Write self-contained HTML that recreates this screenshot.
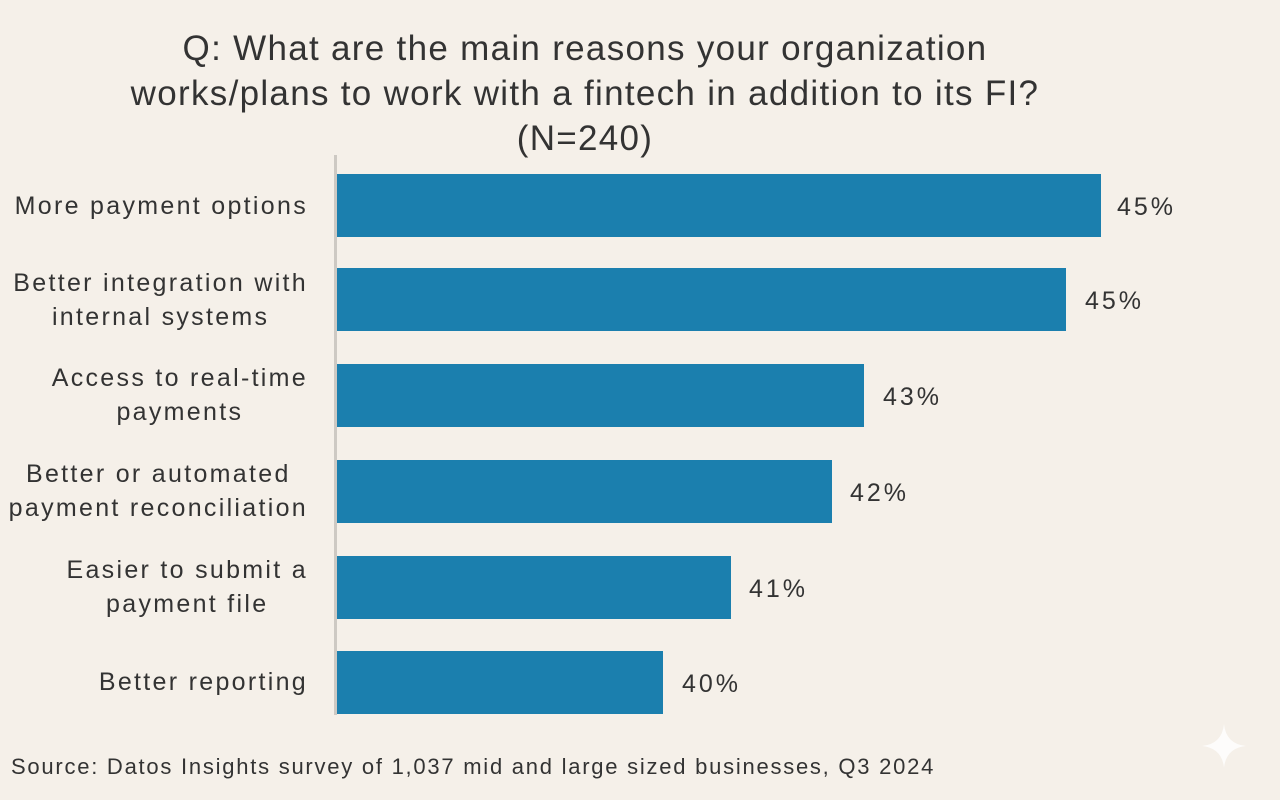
<!DOCTYPE html>
<html><head><style>
body{margin:0;width:1280px;height:800px;background:#f5f0e9;font-family:"Liberation Sans",sans-serif;color:#333;position:relative;overflow:hidden}
.t{position:absolute;left:0;width:1170px;text-align:center;font-size:35px;line-height:45px;top:26px;color:#333;letter-spacing:1.3px}
.ax{position:absolute;left:334px;top:155px;width:3px;height:560px;background:#cdc9c3}
.b{position:absolute;left:337px;height:63px;background:#1b7fae}
.v{position:absolute;font-size:25px;color:#333;letter-spacing:3px}
.l{position:absolute;right:972px;text-align:center;font-size:25px;line-height:34px;color:#333;white-space:nowrap;letter-spacing:2.3px}
.s{position:absolute;left:11px;top:754px;font-size:22px;color:#333;letter-spacing:1.75px}
</style></head><body>
<div class="t">Q: What are the main reasons your organization<br>works/plans to work with a fintech in addition to its FI?<br>(N=240)</div>
<div class="ax"></div>
<div class="b" style="top:174px;width:764px"></div><div class="v" style="left:1117px;top:193px">45%</div>
<div class="b" style="top:268px;width:729px"></div><div class="v" style="left:1085px;top:287px">45%</div>
<div class="b" style="top:364px;width:527px"></div><div class="v" style="left:883px;top:383px">43%</div>
<div class="b" style="top:460px;width:495px"></div><div class="v" style="left:850px;top:479px">42%</div>
<div class="b" style="top:556px;width:394px"></div><div class="v" style="left:749px;top:575px">41%</div>
<div class="b" style="top:651px;width:326px"></div><div class="v" style="left:682px;top:670px">40%</div>
<div class="l" style="top:189px">More payment options</div>
<div class="l" style="top:266px">Better integration with<br>internal systems</div>
<div class="l" style="top:361px">Access to real-time<br>payments</div>
<div class="l" style="top:457px">Better or automated<br>payment reconciliation</div>
<div class="l" style="top:553px">Easier to submit a<br>payment file</div>
<div class="l" style="top:665px">Better reporting</div>
<div class="s">Source: Datos Insights survey of 1,037 mid and large sized businesses, Q3 2024</div>
<svg style="position:absolute;left:1200px;top:722px" width="48" height="48"><path d="M24 2 Q26 22 46 24 Q26 26 24 46 Q22 26 2 24 Q22 22 24 2Z" fill="#fff" opacity=".8"/></svg>
</body></html>
